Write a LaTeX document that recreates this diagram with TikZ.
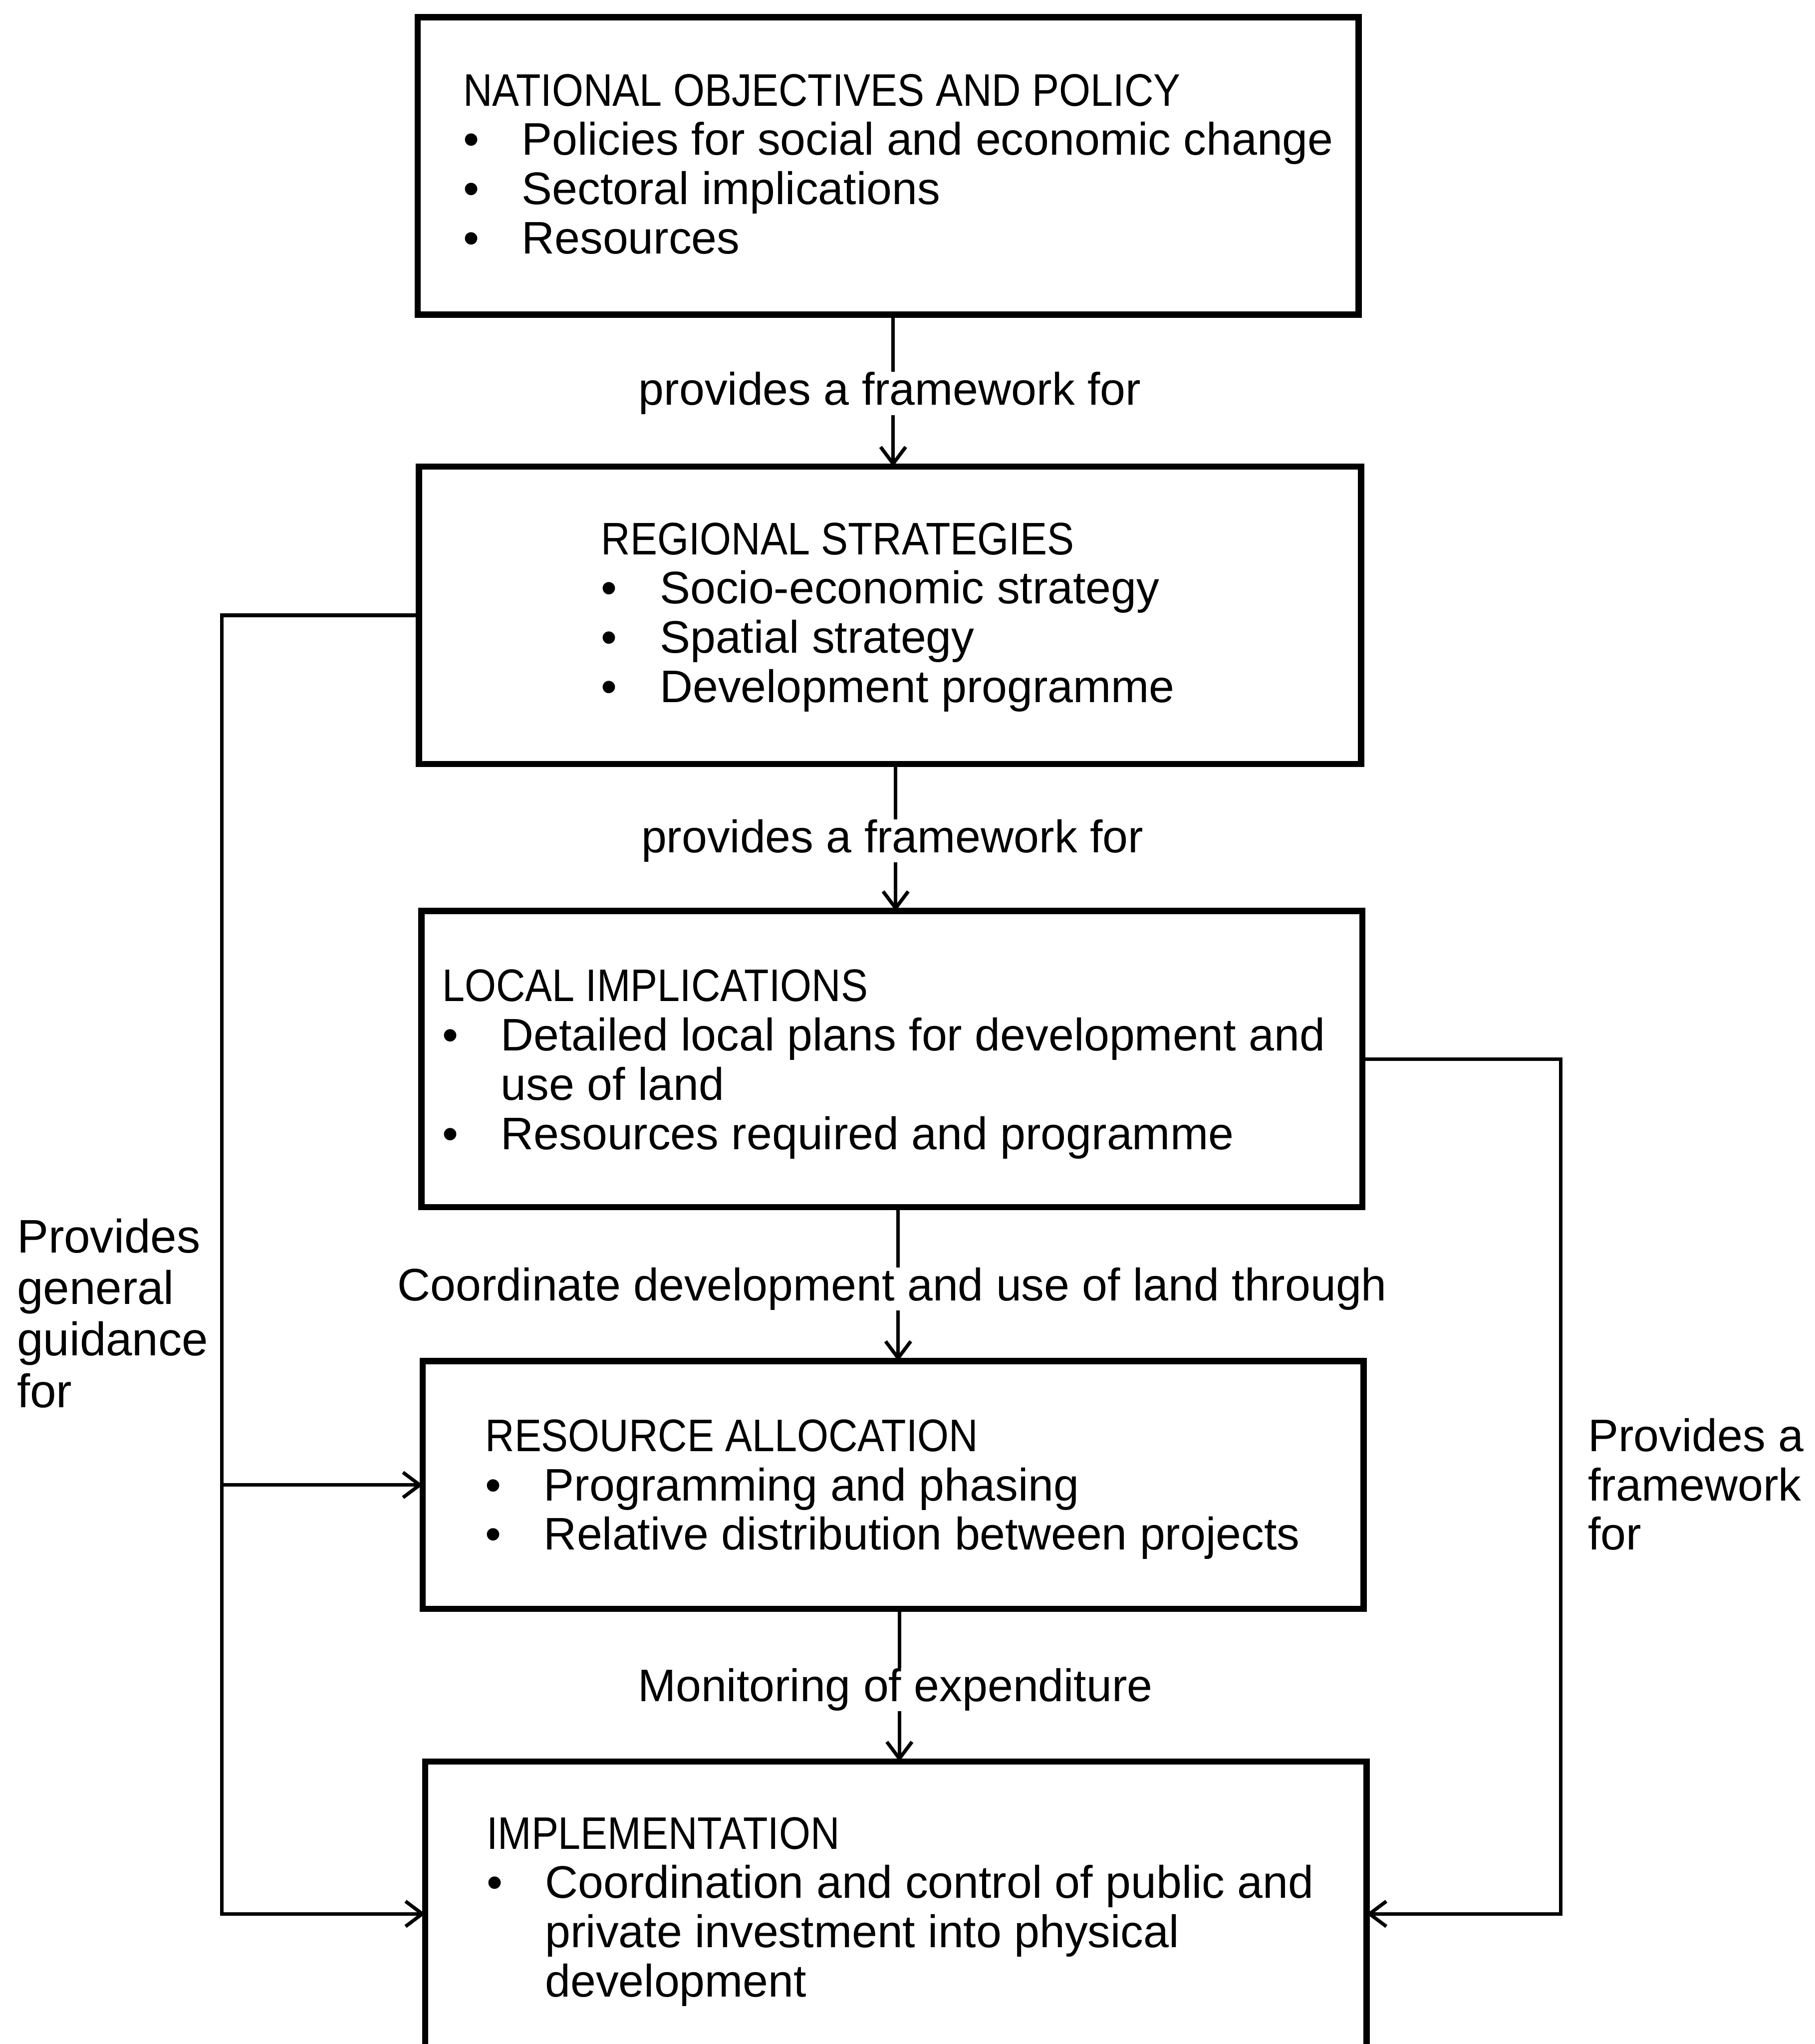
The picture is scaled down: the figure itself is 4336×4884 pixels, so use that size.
\documentclass[tikz,border=0pt]{standalone}
\usepackage{fontspec}
\setmainfont{Liberation Sans}
\usetikzlibrary{arrows.meta,calc}
% bullet with its hanging indent
\newcommand\bul{\makebox[1.4cm][l]{\textbullet}}
\newcommand\ind{\hspace*{1.4cm}}
% narrow capitals for the box headings
\newcommand\head[1]{\scalebox{0.885}[1]{#1}}
\begin{document}
\begin{tikzpicture}[x=0.01cm,y=-0.01cm,
  box/.style={draw,line width=4.3pt,inner sep=0,outer sep=0,anchor=north west},
  conn/.style={line width=2.4pt},
  arr/.style={conn,-{Straight Barb[length=0.4cm,width=0.6cm]}},
  txt/.style={anchor=north west,inner sep=0,align=left,font=\fontsize{31}{33.5}\selectfont},
  lab/.style={inner sep=0,font=\fontsize{31}{33.5}\selectfont}]
\useasboundingbox (0,0) rectangle (4336,4884);
\clip (0,0) rectangle (4336,4884);

% boxes
\node[box,minimum width=22.47cm,minimum height=7.10cm] (b1) at (998,41) {};
\node[box,minimum width=22.50cm,minimum height=7.10cm] (b2) at (1001,1115) {};
\node[box,minimum width=22.47cm,minimum height=7.07cm] (b3) at (1007,2177) {};
\node[box,minimum width=22.47cm,minimum height=5.92cm] (b4) at (1010,3252) {};
\node[box,minimum width=22.48cm,minimum height=9.00cm] (b5) at (1016,4209) {};

% box contents
\node[txt] (t1) at (1106,176) {\head{NATIONAL OBJECTIVES AND POLICY}\\
  \bul Policies for social and economic change\\
  \bul Sectoral implications\\
  \bul Resources};
\node[txt] (t2) at (1436,1248) {\head{REGIONAL STRATEGIES}\\
  \bul Socio-economic strategy\\
  \bul Spatial strategy\\
  \bul Development programme};
\node[txt] (t3) at (1056,2316) {\head{LOCAL IMPLICATIONS}\\
  \bul Detailed local plans for development and\\
  \ind use of land\\
  \bul Resources required and programme};
\node[txt] (t4) at (1159,3391) {\head{RESOURCE ALLOCATION}\\
  \bul Programming and phasing\\
  \bul Relative distribution between projects};
\node[txt] (t5) at (1162,4341) {\head{IMPLEMENTATION}\\
  \bul Coordination and control of public and\\
  \ind private investment into physical\\
  \ind development};

% x positions of the main chain connectors
\coordinate (a1) at (2134,0);
\coordinate (a2) at (2140,0);
\coordinate (a3) at (2146,0);
\coordinate (a4) at (2149,0);

% labels on the main chain
\node[lab] (l1) at (2126,940) {provides a framework for};
\node[lab] (l2) at (2132,2009) {provides a framework for};
\node[lab] (l3) at (2132,3080) {Coordinate development and use of land through};
\node[lab] (l4) at (2139,4037) {Monitoring of expenditure};

% main chain connectors, broken by their labels
\draw[conn] (b1.south -| a1) -- (l1.north -| a1);
\draw[arr] (l1.south -| a1) -- (b2.north -| a1);
\draw[conn] (b2.south -| a2) -- (l2.north -| a2);
\draw[arr] (l2.south -| a2) -- (b3.north -| a2);
\draw[conn] (b3.south -| a3) -- (l3.north -| a3);
\draw[arr] (l3.south -| a3) -- (b4.north -| a3);
\draw[conn] (b4.south -| a4) -- (l4.north -| a4);
\draw[arr] (l4.south -| a4) -- (b5.north -| a4);

% side loops
\coordinate (gl) at (530,4573);
\coordinate (gr) at (3729,4573);
\draw[arr] (b2.west) -| (gl) -- (gl -| b5.west);
\draw[arr] (gl |- b4.west) -- (b4.west);
\draw[arr] (b3.east) -| (gr) -- (gr -| b5.east);

\node[txt,font=\fontsize{32}{35}\selectfont] (sl) at (40,2911) {Provides\\general\\guidance\\for};
\node[txt] (sr) at (3794,3388) {Provides a\\framework\\for};
\end{tikzpicture}
\end{document}
